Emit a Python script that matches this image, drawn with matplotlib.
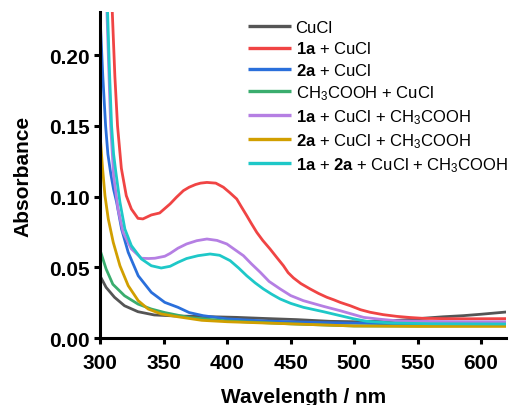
import matplotlib
matplotlib.use('Agg')
import matplotlib.pyplot as plt

# Wavelength (nm) / absorbance pairs
wl_cucl = [300, 304.6, 311.2, 319.1, 329.7, 342.5, 358.5, 380, 407, 430, 455, 481, 500, 520, 540, 555, 570, 586, 600, 620]
abs_cucl = [0.0436, 0.0358, 0.0288, 0.0228, 0.0186, 0.0163, 0.0156, 0.0152, 0.0146, 0.0138, 0.0130, 0.0118,
            0.0115, 0.0118, 0.0128, 0.0140, 0.0150, 0.0158, 0.0168, 0.0184]

wl_1a = [309.4, 311.5, 313.6, 316.6, 318.2, 320.5, 324.5, 329.7, 333.6, 340.2, 346.8, 355, 360, 365.5, 370, 375,
         379, 384, 391, 397, 402, 407.5, 411, 415.4, 419, 423.3, 428, 433.8, 439, 444.3, 448, 452.2, 458, 465.3,
         472, 478.5, 484, 489, 497, 505, 512.6, 523, 533.6, 544, 554.6, 570, 590, 620]
abs_1a = [0.232, 0.185, 0.150, 0.120, 0.112, 0.1006, 0.0912, 0.0846, 0.0842, 0.087, 0.0884, 0.0948, 0.0995, 0.1042,
          0.1066, 0.1085, 0.1095, 0.110, 0.1095, 0.1066, 0.1028, 0.0983, 0.093, 0.0865, 0.081, 0.0747, 0.069,
          0.0629, 0.057, 0.0511, 0.0462, 0.0425, 0.0385, 0.0347, 0.0315, 0.0288, 0.027, 0.0252, 0.0228, 0.020,
          0.0182, 0.0165, 0.0153, 0.0145, 0.0139, 0.0137, 0.0136, 0.0137]

wl_2a = [300, 302, 304.2, 306, 308.3, 310.5, 312.9, 316.8, 322, 329.9, 340.2, 350.8, 361.2, 370, 381, 400, 430, 470,
         520, 570, 620]
abs_2a = [0.224, 0.185, 0.150, 0.130, 0.116, 0.105, 0.096, 0.077, 0.0606, 0.044, 0.0323, 0.0252, 0.0217, 0.018,
          0.0158, 0.0135, 0.0120, 0.0110, 0.0102, 0.0098, 0.0095]

wl_acid = [300, 304.6, 309.9, 319.1, 329.7, 340.2, 350.8, 370, 400, 450, 500, 550, 620]
abs_acid = [0.0617, 0.0488, 0.038, 0.0299, 0.024, 0.0205, 0.018, 0.0145, 0.0120, 0.0100, 0.0085, 0.0085, 0.0088]

wl_1a_acid = [305.2, 306.7, 308.2, 310.5, 314, 318, 324.5, 332.4, 338, 343, 350.8, 355, 361.2, 368, 376, 384, 392,
              399.7, 406, 412.8, 419, 426, 433, 441.7, 450, 460, 475.8, 489, 498, 507.4, 520, 533.6, 560, 590, 620]
abs_1a_acid = [0.232, 0.19, 0.150, 0.115, 0.091, 0.0747, 0.063, 0.0564, 0.0562, 0.0564, 0.0578, 0.0598, 0.0635,
               0.0665, 0.0688, 0.070, 0.069, 0.0665, 0.0625, 0.0582, 0.0525, 0.0465, 0.040, 0.0347, 0.030, 0.0264,
               0.0224, 0.0193, 0.017, 0.0146, 0.0133, 0.0122, 0.0117, 0.0115, 0.0115]

wl_2a_acid = [300, 301.8, 303.7, 306.3, 310.2, 315.5, 322, 329.9, 337.7, 348, 361.2, 380, 400, 450, 500, 550, 620]
abs_2a_acid = [0.142, 0.120, 0.1006, 0.0842, 0.0677, 0.0511, 0.037, 0.0264, 0.0205, 0.017, 0.015, 0.0125, 0.0115,
               0.0100, 0.0085, 0.0082, 0.0082]

wl_mix = [305.7, 307.2, 308.9, 310.5, 312.3, 315.5, 319.4, 324.5, 332.4, 340.2, 348, 355, 361.2, 368, 377, 386.5,
          394, 402.3, 409, 415.4, 422, 428.5, 435, 441.7, 450, 460, 475.8, 489, 500, 510, 530, 560, 590, 620]
abs_mix = [0.232, 0.19, 0.150, 0.13, 0.117, 0.096, 0.077, 0.0653, 0.0559, 0.0511, 0.0495, 0.0507, 0.0535, 0.0562,
           0.0582, 0.0594, 0.0585, 0.0547, 0.0495, 0.044, 0.039, 0.0347, 0.031, 0.0276, 0.0245, 0.0217, 0.0186,
           0.0158, 0.0135, 0.0118, 0.0106, 0.0101, 0.0100, 0.0099]

labels = [
    'CuCl',
    r'$\mathbf{1a}$ + CuCl',
    r'$\mathbf{2a}$ + CuCl',
    r'CH$_3$COOH + CuCl',
    r'$\mathbf{1a}$ + CuCl + CH$_3$COOH',
    r'$\mathbf{2a}$ + CuCl + CH$_3$COOH',
    r'$\mathbf{1a}$ + $\mathbf{2a}$ + CuCl + CH$_3$COOH',
]
colors = ['#555555', '#f04444', '#2a6fdb', '#3aad6e', '#b57fe3', '#d19f00', '#1ec8c8']

x_ticks = [300, 350, 400, 450, 500, 550, 600]
y_ticks = [0.00, 0.05, 0.10, 0.15, 0.20]

plt.rcParams['font.family'] = ['Liberation Sans', 'DejaVu Sans']
plt.rcParams['mathtext.fontset'] = 'custom'
plt.rcParams['mathtext.rm'] = 'Liberation Sans'
plt.rcParams['mathtext.it'] = 'Liberation Sans'
plt.rcParams['mathtext.bf'] = 'Liberation Sans:bold'

fig = plt.figure(figsize=(5.09, 4.06), dpi=100)
ax = fig.add_axes([0.197, 0.165, 0.798, 0.803])

series = [(wl_cucl, abs_cucl), (wl_1a, abs_1a), (wl_2a, abs_2a), (wl_acid, abs_acid),
          (wl_1a_acid, abs_1a_acid), (wl_2a_acid, abs_2a_acid), (wl_mix, abs_mix)]
for (wl, a), c, lab in zip(series, colors, labels):
    ax.plot(wl, a, color=c, lw=2.0, label=lab, solid_capstyle='butt', solid_joinstyle='round')

ax.set_xlim(300, 620)
ax.set_ylim(0, 0.2305)
ax.set_xticks(x_ticks)
ax.set_yticks(y_ticks)
ax.set_yticklabels([f'{v:.2f}' for v in y_ticks])

for s in ['top', 'right']:
    ax.spines[s].set_visible(False)
for s in ['left', 'bottom']:
    ax.spines[s].set_linewidth(2.2)
ax.tick_params(width=2.2, length=4.5, labelsize=15)
ax.tick_params(axis='x', pad=6)
ax.tick_params(axis='y', pad=3)
for t in ax.get_xticklabels() + ax.get_yticklabels():
    t.set_fontweight('bold')

ax.set_xlabel('Wavelength / nm', fontsize=15, fontweight='bold', labelpad=11)
ax.set_ylabel('Absorbance', fontsize=15, fontweight='bold', labelpad=12)

leg = ax.legend(loc='upper left', bbox_to_anchor=(0.364, 0.975), frameon=False, fontsize=12,
                handlelength=2.55, handletextpad=0.3, labelspacing=0.32, borderpad=0, borderaxespad=0)
for line in leg.get_lines():
    line.set_linewidth(2.4)

fig.savefig('out.png', dpi=100)
